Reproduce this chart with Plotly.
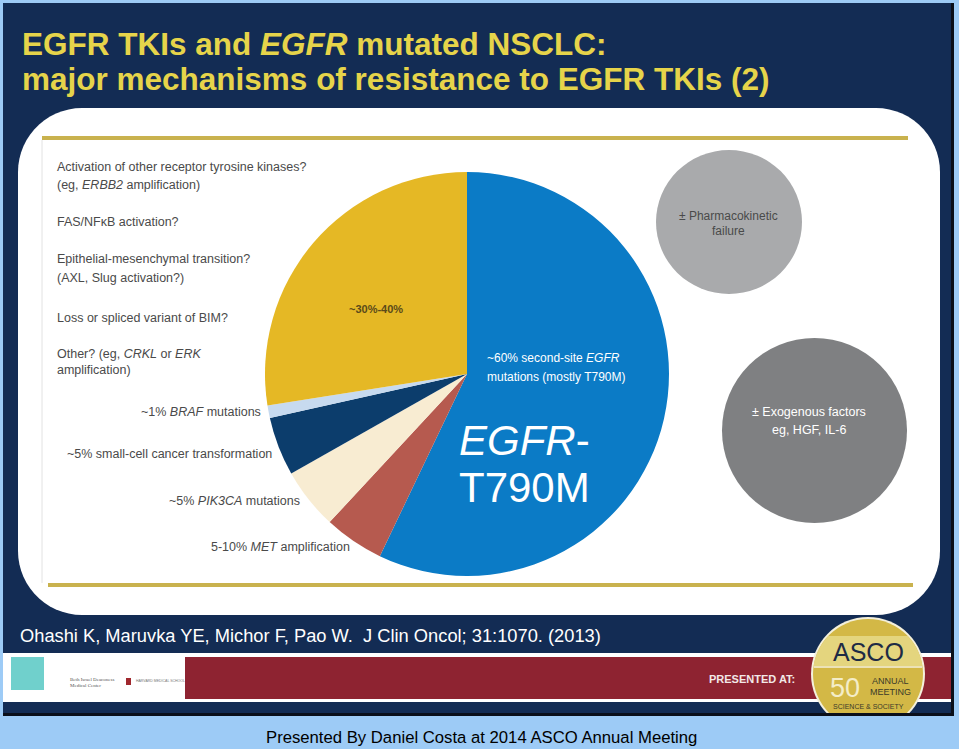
import math
import numpy as np
import plotly.graph_objects as go

W, H = 959, 749

# ---- data ----
slice_labels = ["EGFR T790M (second-site EGFR mutations)", "MET amplification",
                "PIK3CA mutations", "Small-cell cancer transformation",
                "BRAF mutations", "Unknown / other"]
slice_values = [57.1, 4.8, 4.9, 4.7, 1.0, 27.5]
slice_colors = ["#0B7BC6", "#B65A4F", "#F8ECD2", "#0C3D6C", "#C7DAEF", "#E5B825"]

left_notes = [
    "Activation of other receptor tyrosine kinases?",
    "(eg, <i>ERBB2</i> amplification)",
    "FAS/NFκB activation?",
    "Epithelial-mesenchymal transition?",
    "(AXL, Slug activation?)",
    "Loss or spliced variant of BIM?",
    "Other? (eg, <i>CRKL</i> or <i>ERK</i>",
    "amplification)",
]
slice_notes = [
    "~1% <i>BRAF</i> mutations",
    "~5% small-cell cancer transformation",
    "~5% <i>PIK3CA</i> mutations",
    "5-10% <i>MET</i> amplification",
]

def X(p):
    return p / W

def Y(p):
    return 1 - p / H

def path_from_pts(pts):
    return "M " + " L ".join(f"{X(a):.5f},{Y(b):.5f}" for a, b in pts) + " Z"

def rounded_rect(x0, y0, x1, y1, r, n=16):
    pts = []
    corners = [(x1 - r, y0 + r, -90, 0), (x1 - r, y1 - r, 0, 90),
               (x0 + r, y1 - r, 90, 180), (x0 + r, y0 + r, 180, 270)]
    for cx, cy, a0, a1 in corners:
        for t in np.linspace(math.radians(a0), math.radians(a1), n):
            pts.append((cx + r * math.cos(t), cy + r * math.sin(t)))
    return path_from_pts(pts)

shapes = []
def rect(x0, y0, x1, y1, color, line=None):
    shapes.append(dict(type="rect", xref="paper", yref="paper", layer="below",
                       x0=X(x0), x1=X(x1), y0=Y(y1), y1=Y(y0),
                       fillcolor=color, line=dict(width=0) if line is None else line))

def circle(x0, y0, x1, y1, color, line=None):
    shapes.append(dict(type="circle", xref="paper", yref="paper", layer="below",
                       x0=X(x0), x1=X(x1), y0=Y(y1), y1=Y(y0),
                       fillcolor=color, line=dict(width=0) if line is None else line))

def hline(x0, x1, y, color, w):
    shapes.append(dict(type="line", xref="paper", yref="paper", layer="below",
                       x0=X(x0), x1=X(x1), y0=Y(y), y1=Y(y),
                       line=dict(color=color, width=w)))

NAVY = "#132C54"
# slide
rect(3, 3, 954, 716, "#0A0F1A")
rect(3, 3, 951, 713, NAVY)
# white panel
shapes.append(dict(type="path", xref="paper", yref="paper", layer="below",
                   path=rounded_rect(18, 108, 940, 615, 64),
                   fillcolor="white", line=dict(width=0)))
# inner figure border + gold rules
shapes.append(dict(type="line", xref="paper", yref="paper", layer="below",
                   x0=X(42), x1=X(42), y0=Y(140), y1=Y(583),
                   line=dict(color="#E2E2E2", width=1)))
hline(42, 908, 138, "#C9B24E", 4)
hline(48, 913, 585, "#C9B24E", 4)

# grey circles
circle(656, 150, 802, 294, "#A9AAAC")
circle(722, 338, 907, 523, "#7F8082")

# footer strip
rect(3, 653, 951, 702, "white")
rect(185, 657, 951, 699, "#8E2331")
rect(11, 657, 44, 690, "#70D0CC")
rect(126, 678, 131, 685, "#A0282E")

# ASCO badge
cx, cy, r = 868, 674, 55
circle(cx - r - 2, cy - r - 2, cx + r + 2, cy + r + 2, "#F4F0DC")
circle(cx - r, cy - r, cx + r, cy + r, "#D3B846")
def band(ya, yb, color):
    pts = []
    for yy in np.linspace(ya, yb, 12):
        pts.append((cx + math.sqrt(max(r * r - (yy - cy) ** 2, 0)), yy))
    for yy in np.linspace(yb, ya, 12):
        pts.append((cx - math.sqrt(max(r * r - (yy - cy) ** 2, 0)), yy))
    shapes.append(dict(type="path", xref="paper", yref="paper", layer="below",
                       path=path_from_pts(pts), fillcolor=color, line=dict(width=0)))
band(636, 666, "#E4D57E")
hline(cx - 54, cx + 54, 667, "#F4F0DC", 1.5)
# caption background (covers badge overflow)
rect(0, 716, 959, 749, "#9DCBF6")
rect(3, 713, 954, 716, "#0A0F1A")

fig = go.Figure()
fig.add_trace(go.Pie(
    labels=slice_labels, values=slice_values, sort=False, direction="clockwise",
    rotation=0, hole=0,
    marker=dict(colors=slice_colors, line=dict(width=0)),
    textinfo="none", hoverinfo="label+percent", showlegend=False,
    domain=dict(x=[X(265), X(669)], y=[Y(576), Y(172)]),
))

ann = []
FONT = "Liberation Sans, Arial, sans-serif"
def text(x, y, s, size, color, anchor="left", family=FONT):
    ann.append(dict(x=X(x), y=Y(y), xref="paper", yref="paper", text=s,
                    showarrow=False, xanchor=anchor, yanchor="middle",
                    font=dict(size=size, color=color, family=family)))

text(20, 44, "<b>EGFR TKIs and <i>EGFR</i> mutated NSCLC:</b>", 31.5, "#E6D44A")
text(20, 79, "<b>major mechanisms of resistance to EGFR TKIs (2)</b>", 31.5, "#E6D44A")

ys = [167, 185, 222, 259, 278, 318, 354, 370]
for s, y in zip(left_notes, ys):
    text(55, y, s, 12.5, "#4A4A4A")
for s, (x, y) in zip(slice_notes, [(263, 412), (274, 454), (302, 501), (352, 547)]):
    text(x, y, s, 12.5, "#4A4A4A", anchor="right")

text(376, 309, "<b>~30%-40%</b>", 11, "#5A4A1A", anchor="center")
text(485, 358, "~60% second-site <i>EGFR</i>", 12, "white")
text(485, 377, "mutations (mostly T790M)", 12, "white")
text(457, 440, "<i>EGFR</i>-", 42, "white")
text(457, 487, "T790M", 42, "white")

text(728, 216, "± Pharmacokinetic", 12, "#4A4A4A", anchor="center")
text(728, 231, "failure", 12, "#4A4A4A", anchor="center")
text(809, 412, "± Exogenous factors", 12.5, "white", anchor="center")
text(809, 430, "eg, HGF, IL-6", 12.5, "white", anchor="center")

text(18, 635, "Ohashi K, Maruvka YE, Michor F, Pao W.  J Clin Oncol; 31:1070. (2013)", 18.3, "white")
text(68, 679, "Beth Israel Deaconess", 5, "#555555", family="Liberation Serif, serif")
text(68, 685, "Medical Center", 5, "#555555", family="Liberation Serif, serif")
text(134, 681, "HARVARD MEDICAL SCHOOL", 3.5, "#777777")
text(752, 679, "<b>PRESENTED AT:</b>", 11, "#F2E8E8", anchor="center")
text(868, 652, "ASCO", 25, "#1E2B45", anchor="center")
text(845, 688, "50", 27, "#F4EDC8", anchor="center")
text(890, 681, "ANNUAL", 9, "#3A3A2A", anchor="center")
text(890, 692, "MEETING", 9, "#3A3A2A", anchor="center")
text(868, 706, "SCIENCE &amp; SOCIETY", 7, "#3A3A2A", anchor="center")

text(481, 737, "Presented By Daniel Costa at 2014 ASCO Annual Meeting", 16.7, "black", anchor="center")

fig.update_layout(
    width=W, height=H, margin=dict(l=0, r=0, t=0, b=0),
    paper_bgcolor="#9DCBF6", plot_bgcolor="#9DCBF6",
    shapes=shapes, annotations=ann, showlegend=False,
)
fig.write_html("out.html")
